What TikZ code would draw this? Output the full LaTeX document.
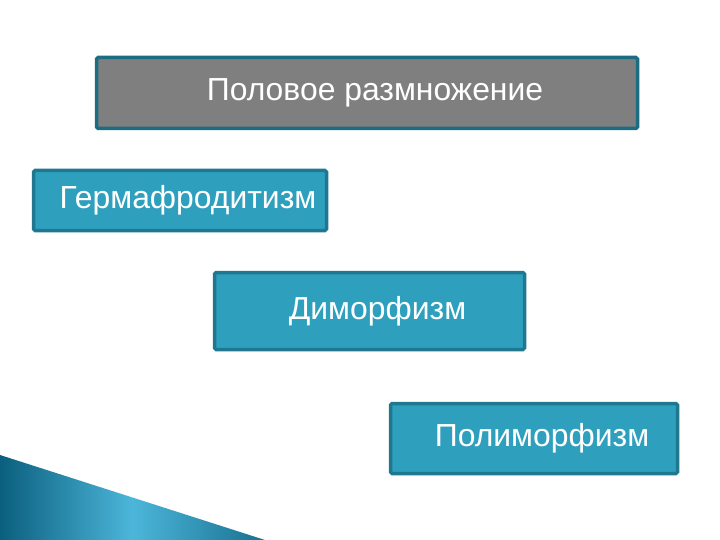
\documentclass[tikz,border=0pt]{standalone}
\usepackage{fontspec}
\setmainfont{Liberation Sans}
\usepackage{tikz}
\usetikzlibrary{positioning}
\definecolor{boxteal}{HTML}{2EA0BE}
\definecolor{edgeteal}{HTML}{1F7890}
\definecolor{boxgray}{HTML}{7F7F7F}
\definecolor{darkwedge}{HTML}{0B5F7E}
\definecolor{lightwedge}{HTML}{4CB6DA}
\tikzset{formbox/.style={draw=edgeteal, fill=boxteal, line width=3.5bp,
    rounded corners=1.5bp, text=white, font=\fontsize{32}{38}\selectfont,
    anchor=north west, inner sep=0pt},
  topbox/.style={formbox, fill=boxgray, draw=edgeteal!90!black}}

\begin{document}
\begin{tikzpicture}[x=1bp, y=-1bp]
  \useasboundingbox (0,0) rectangle (720,540);

  % blue wedge, bottom left
  \shade[left color=darkwedge, right color=darkwedge!80!lightwedge,
    middle color=lightwedge, draw=none]
    (0,455) -- (265,540) -- (0,540) -- cycle;

  \node[topbox, minimum width=541bp, minimum height=71bp] (sex) at (94.75,55.75)
    {\hspace*{16bp}Половое размножение};
  \node[formbox, minimum width=293bp, minimum height=60bp] (herm) at (31.75,168.75)
    {\hspace*{16bp}Гермафродитизм};
  \node[formbox, minimum width=310bp, minimum height=77bp] (dimorph) at (212.75,270.75)
    {\hspace*{16bp}Диморфизм};
  \node[formbox, minimum width=287bp, minimum height=70bp] (polymorph) at (388.75,401.75)
    {\hspace*{16bp}Полиморфизм};
\end{tikzpicture}
\end{document}
